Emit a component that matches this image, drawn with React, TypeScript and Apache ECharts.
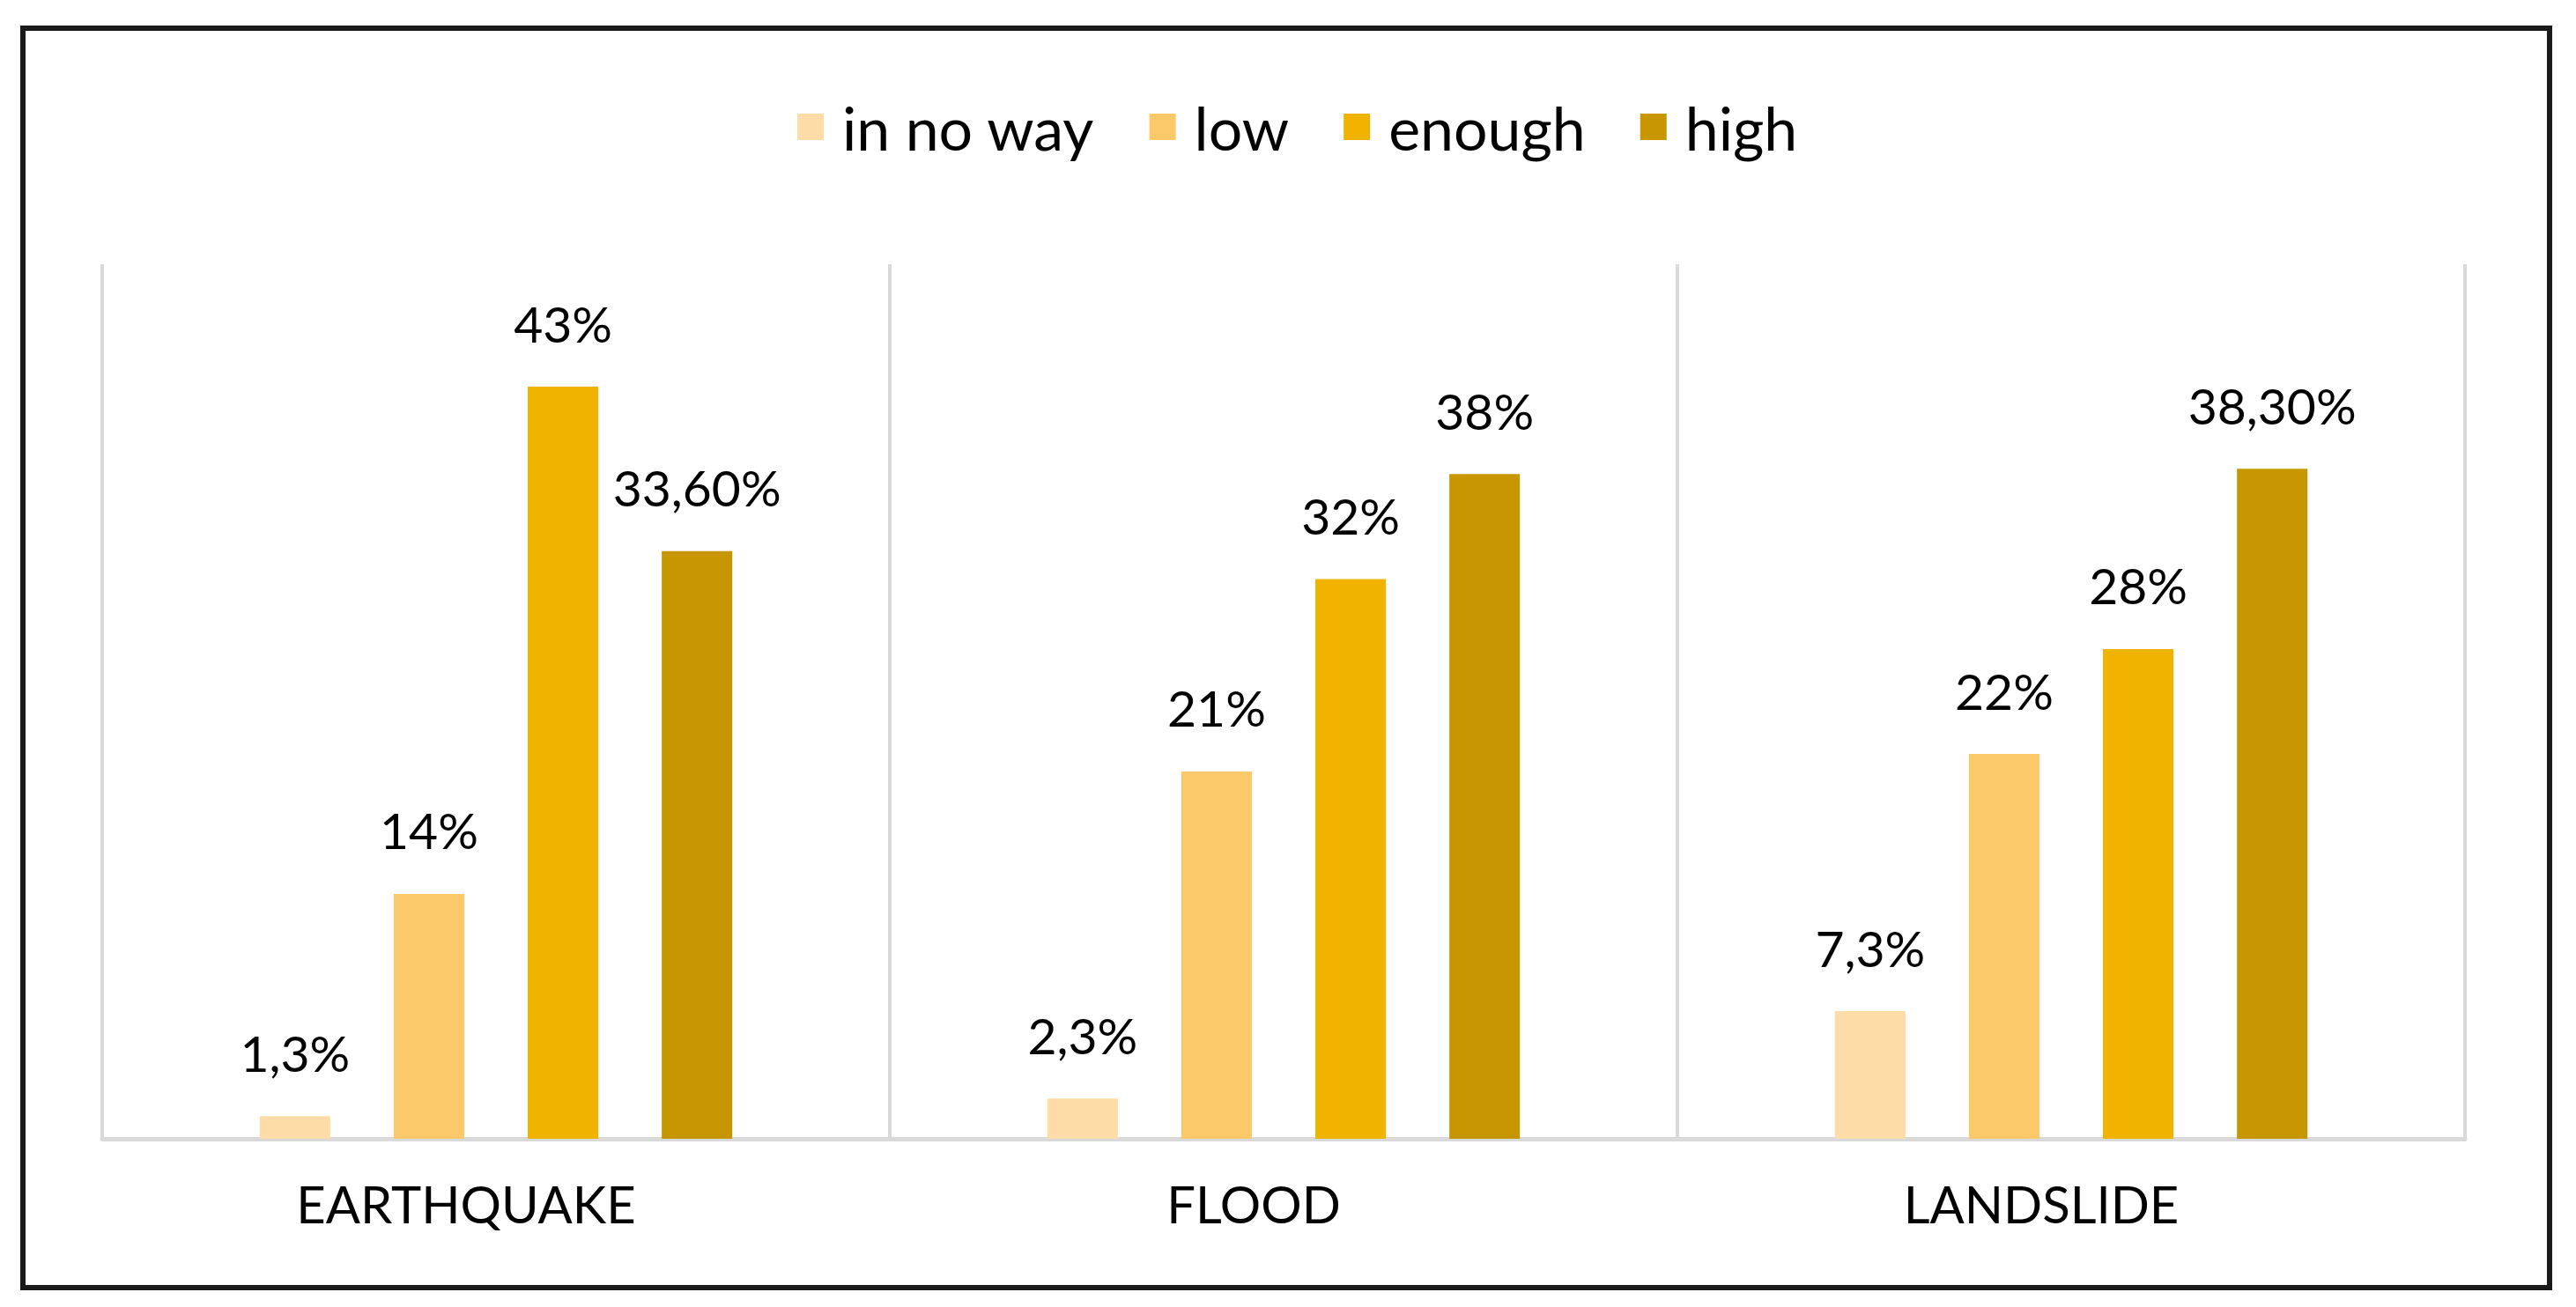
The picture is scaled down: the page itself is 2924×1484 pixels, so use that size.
import React, { useEffect, useRef } from "react";
import * as echarts from "echarts";

const categories = ["EARTHQUAKE", "FLOOD", "LANDSLIDE"];
const seriesNames = ["in no way", "low", "enough", "high"];
const inNoWay = [1.3, 2.3, 7.3];
const low = [14, 21, 22];
const enough = [43, 32, 28];
const high = [33.6, 38, 38.3];
const inNoWayLabels = ["1,3%", "2,3%", "7,3%"];
const lowLabels = ["14%", "21%", "22%"];
const enoughLabels = ["43%", "32%", "28%"];
const highLabels = ["33,60%", "38%", "38,30%"];
const colors = ["#FDDCA8", "#FCC96A", "#F0B400", "#C89600"];

const FONT = "Lato";

export default function App() {
  const ref = useRef<HTMLDivElement>(null);
  useEffect(() => {
    if (!ref.current) return;
    const chart = echarts.init(ref.current, null, { renderer: "svg" });
    const values = [inNoWay, low, enough, high];
    const labels = [inNoWayLabels, lowLabels, enoughLabels, highLabels];
    chart.setOption({
      animation: false,
      backgroundColor: "#ffffff",
      textStyle: { fontFamily: FONT, color: "#000" },
      legend: {
        data: seriesNames,
        left: 900,
        top: 105,
        itemWidth: 30,
        itemHeight: 30,
        itemGap: 62,
        icon: "rect",
        textStyle: { fontFamily: FONT, fontSize: 68, color: "#000", padding: [0, 0, 0, 16] },
      },
      grid: { left: 116, right: 126, top: 300, bottom: 191, containLabel: false },
      xAxis: {
        type: "category",
        data: categories,
        axisLine: { show: true, lineStyle: { color: "#D9D9D9", width: 5 } },
        axisTick: { show: false },
        splitLine: { show: true, lineStyle: { color: "#D9D9D9", width: 4 } },
        axisLabel: { fontFamily: FONT, fontSize: 58, color: "#000", margin: 44, padding: [0, 68, 0, 0] },
      },
      yAxis: {
        type: "value",
        min: 0,
        max: 50,
        show: false,
        splitLine: { show: false },
      },
      graphic: [
        {
          type: "rect",
          shape: { x: 26, y: 32, width: 2868, height: 1430 },
          style: { fill: "none", stroke: "#1a1a1a", lineWidth: 6 },
          silent: true,
        },
      ],
      series: seriesNames.map((name, i) => ({
        name,
        type: "bar",
        data: values[i],
        barCategoryGap: "40%",
        barGap: "90%",
        itemStyle: { color: colors[i] },
        label: {
          show: true,
          position: "top",
          distance: 44,
          fontFamily: FONT,
          fontSize: 57,
          color: "#000",
          formatter: (p: any) => labels[i][p.dataIndex],
        },
      })),
    });
    return () => chart.dispose();
  }, []);
  return (
    <div
      ref={ref}
      style={{ position: "fixed", left: 0, top: 0, width: 2924, height: 1484 }}
    />
  );
}
